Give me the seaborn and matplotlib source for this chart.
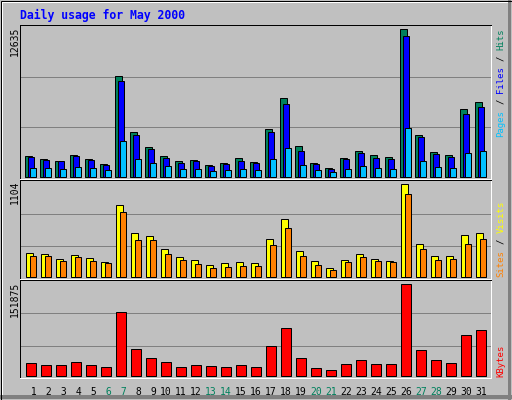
import matplotlib
matplotlib.use("Agg")
from matplotlib import pyplot as plt
from matplotlib.patches import Rectangle
import seaborn as sns

# ---- data (Webalizer daily usage, May 2000) ----
days = list(range(1, 32))
weekend_days = [6, 7, 13, 14, 20, 21, 27, 28]

hits = [1768, 1512, 1340, 1854, 1512, 1084, 8585, 3822, 2538, 1768, 1340, 1426, 998, 1169, 1597, 1255,
        4078, 6702, 2624, 1169, 742, 1597, 2196, 1854, 1683, 12635, 3565, 2110, 1854, 5790, 6389]
files = [1654, 1397, 1340, 1740, 1426, 998, 8185, 3565, 2367, 1597, 1169, 1340, 913, 1084, 1340, 1169,
         3793, 6217, 2196, 1084, 656, 1512, 2025, 1597, 1512, 12035, 3394, 1939, 1683, 5362, 5961]
pages = [742, 742, 656, 827, 742, 570, 3052, 1512, 1169, 913, 656, 656, 485, 570, 656, 570,
         1512, 2453, 998, 570, 399, 656, 913, 742, 656, 4164, 1340, 827, 742, 2025, 2196]
visits = [278, 266, 206, 254, 218, 171, 862, 516, 480, 326, 230, 195, 135, 159, 171, 159,
          445, 695, 302, 183, 99, 195, 266, 206, 183, 1104, 385, 242, 242, 492, 516]
sites = [242, 242, 183, 230, 183, 159, 778, 433, 433, 266, 195, 147, 99, 111, 123, 123,
         373, 576, 242, 135, 75, 171, 230, 183, 171, 993, 326, 195, 206, 385, 445]
kbytes = [20435, 17121, 17121, 22092, 17121, 13808, 106594, 43632, 28720, 22092, 13808, 17121, 15464,
          13808, 17121, 13808, 48602, 78427, 28720, 12151, 8837, 18778, 25406, 18778, 18778, 151875,
          41975, 25406, 20435, 66829, 75113]
title = "Daily usage for May 2000"

# ---- style ----
BG = "#C0C0C0"
GRID = "#808080"
C_HITS, C_FILES, C_PAGES = "#00805C", "#0000FF", "#00C0FF"
C_VISITS, C_SITES, C_KBYTES = "#FFFF00", "#FF8000", "#FF0000"
MONO = "DejaVu Sans Mono"
W, H = 512, 400
LW = 0.72

sns.set_style("white")
plt.rcParams["font.family"] = [MONO, "DejaVu Sans"]

fig = plt.figure(figsize=(W / 100, H / 100), dpi=100, facecolor=BG)


def px_box(top, bottom, left=20, right=490.7):
    return [left / W, 1 - bottom / H, (right - left) / W, (bottom - top) / H]


def bars(ax, x, y, offset, width, color):
    sns.barplot(x=[d + offset for d in x], y=y, ax=ax, native_scale=True, orient="x",
                width=width, color=color, saturation=1, edgecolor="black",
                linewidth=LW, errorbar=None)


def panel(ax, top_value, scale_px, margin_px, grid_fracs):
    ymax = top_value * scale_px[1] / scale_px[0]
    ax.set_ylim(-top_value * margin_px / scale_px[0], ymax)
    ax.set_xlim(0.27, 31.65)
    ax.set_facecolor(BG)
    ax.set_yticks([f * ymax for f in grid_fracs])
    ax.grid(axis="y", color=GRID, linewidth=LW)
    ax.set_axisbelow(True)
    ax.tick_params(left=False, labelleft=False, bottom=False, labelbottom=False)
    ax.set_xlabel("")
    ax.set_ylabel("")
    for side in ("top", "left"):
        ax.spines[side].set_color("black")
    for side in ("bottom", "right"):
        ax.spines[side].set_color("white")
    for sp in ax.spines.values():
        sp.set_linewidth(LW)
        sp.set_visible(True)


ax1 = fig.add_axes(px_box(25, 179.3))
ax2 = fig.add_axes(px_box(180.3, 279.3))
ax3 = fig.add_axes(px_box(280.3, 378.3))

bars(ax1, days, hits, -0.14, 0.45, C_HITS)
bars(ax1, days, files, 0.0, 0.42, C_FILES)
bars(ax1, days, pages, 0.137, 0.42, C_PAGES)
panel(ax1, max(hits), (443, 455), 8, [0.325, 0.659])

bars(ax2, days, visits, -0.107, 0.51, C_VISITS)
bars(ax2, days, sites, 0.137, 0.42, C_SITES)
panel(ax2, max(visits), (278, 290), 8, [0.314, 0.655])

bars(ax3, days, kbytes, 0.0, 0.65, C_KBYTES)
panel(ax3, max(kbytes), (275, 287), 8, [0.307, 0.652])

ax3.set_xticks(days)
ax3.set_xticklabels([f"{d:2d}" for d in days])
ax3.tick_params(bottom=False, labelbottom=True, labelsize=7, pad=3)
for lab, d in zip(ax3.get_xticklabels(), days):
    lab.set_color(C_HITS if d in weekend_days else "black")

# max value labels on the left
for top_px, val in ((27, max(hits)), (181, max(visits)), (282, max(kbytes))):
    fig.text(15 / W, 1 - top_px / H, str(val), rotation=90, ha="center", va="top",
             fontsize=7, color="black")

# title
fig.text(20 / W, 1 - 15 / H, title, color="#0000FF", fontweight="bold", fontsize=8.3,
         ha="left", va="center")


# vertical legends on the right, one piece per colour
def side_legend(parts, start_px, size=6.5, x_px=501):
    adv = 0.602 * size * 100 / 72
    for idx, txt, col in parts:
        fig.text(x_px / W, 1 - (start_px - idx * adv) / H, txt, rotation=90,
                 rotation_mode="anchor", ha="left", va="center", fontsize=size, color=col)


side_legend([(0, "Pages", C_PAGES), (6, "/", "black"), (8, "Files", C_FILES),
             (14, "/", "black"), (16, "Hits", C_HITS)], 136.7)
side_legend([(0, "Sites", C_SITES), (6, "/", "black"), (8, "Visits", C_VISITS)], 276.7)
side_legend([(0, "KBytes", C_KBYTES)], 376.7)

# bevelled outer frame
fig.add_artist(Rectangle((0, 1 / H), 1, 4 / H, transform=fig.transFigure, color=GRID, lw=0))
fig.add_artist(Rectangle((508 / W, 0), 3 / W, 1, transform=fig.transFigure, color=GRID, lw=0))
fig.add_artist(Rectangle((1 / W, 1 - 3 / H), 507 / W, 2 / H, transform=fig.transFigure, color="white", lw=0))
fig.add_artist(Rectangle((1 / W, 5 / H), 2 / W, 1 - 8 / H, transform=fig.transFigure, color="white", lw=0))
fig.add_artist(Rectangle((0.5 / W, 0.5 / H), 1 - 1 / W, 1 - 1 / H, transform=fig.transFigure,
                         fill=False, edgecolor="black", lw=LW))

fig.savefig("out.png", dpi=100, facecolor=BG)
plt.close(fig)
